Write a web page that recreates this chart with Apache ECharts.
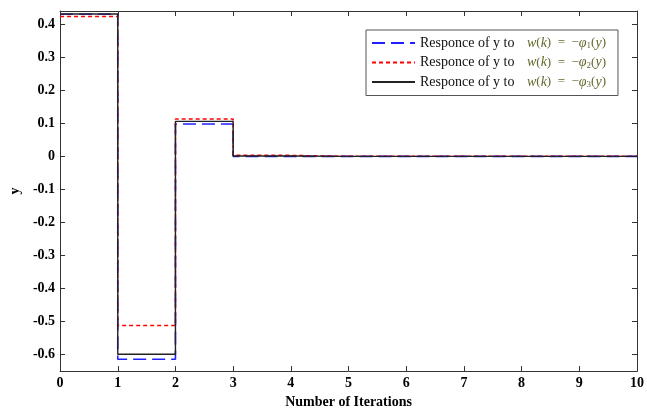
<!DOCTYPE html>
<html>
<head>
<meta charset="utf-8">
<style>
  html, body { margin: 0; padding: 0; background: #fff; }
  #chart { width: 647px; height: 414px; }
</style>
<script src="https://cdn.jsdelivr.net/npm/echarts@6/dist/echarts.min.js"></script>
</head>
<body>
<div id="chart"></div>
<script>
// iterations 0..10, value held until next iteration
var iterations = [0, 1, 2, 3, 4, 5, 6, 7, 8, 9, 10];
var yPhi1 = [0.43, -0.614, 0.098, 0, 0, 0, 0, 0, 0, 0, 0];
var yPhi2 = [0.423, -0.512, 0.113, 0.003, 0, 0, 0, 0, 0, 0, 0];
var yPhi3 = [0.431, -0.599, 0.106, 0.001, 0, 0, 0, 0, 0, 0, 0];
var yTicks = [-0.6, -0.5, -0.4, -0.3, -0.2, -0.1, 0, 0.1, 0.2, 0.3, 0.4];
var legendNames = ['phi1', 'phi2', 'phi3'];
var legendSubs = ['1', '2', '3'];

function pairs(vals) {
  return iterations.map(function (x, i) { return [x, vals[i]]; });
}

var myChart = echarts.init(document.getElementById('chart'));
var font = '"Liberation Serif", "DejaVu Serif", serif';

var option = {
  animation: false,
  backgroundColor: '#fff',
  textStyle: { fontFamily: font },
  grid: { left: 55, right: 6, top: 11, bottom: 34 },
  legend: {
    orient: 'vertical',
    left: 366,
    top: 30,
    data: legendNames,
    itemWidth: 43,
    itemHeight: 12,
    itemGap: 5,
    padding: [6, 12, 6, 5],
    borderColor: '#555',
    borderWidth: 1,
    backgroundColor: '#fff',
    itemStyle: { opacity: 0 },
    formatter: function (name) {
      var i = legendNames.indexOf(name);
      return '{t|Responce of y to }   {m|w}{n|(}{m|k}{n|)  =  \u2212}{m|\u03c6}{s|' + legendSubs[i] + '}{n|(}{m|y}{n|)}';
    },
    textStyle: {
      fontFamily: font,
      rich: {
        t: { fontFamily: font, fontSize: 14, color: '#111' },
        m: { fontFamily: font, fontSize: 14, fontStyle: 'italic', color: '#66662e' },
        n: { fontFamily: font, fontSize: 13, color: '#66662e' },
        s: { fontFamily: font, fontSize: 9, color: '#66662e', verticalAlign: 'bottom', padding: [6, 0, 0, 0] }
      }
    }
  },
  xAxis: [{
    type: 'value',
    min: 0,
    max: 10,
    interval: 1,
    name: 'Number of Iterations',
    nameLocation: 'middle',
    nameGap: 17,
    nameTextStyle: { fontFamily: font, fontWeight: 'bold', fontSize: 14, color: '#000' },
    axisLine: { show: true, onZero: false, lineStyle: { color: '#333', width: 1 } },
    axisTick: { show: true, inside: true, length: 5, lineStyle: { color: '#333' } },
    axisLabel: { margin: 5, fontFamily: font, fontWeight: 'bold', fontSize: 14, color: '#000' },
    splitLine: { show: false }
  }, {
    type: 'value',
    position: 'top',
    min: 0,
    max: 10,
    interval: 1,
    axisLine: { show: true, onZero: false, lineStyle: { color: '#333', width: 1 } },
    axisTick: { show: true, inside: true, length: 5, lineStyle: { color: '#333' } },
    axisLabel: { show: false },
    splitLine: { show: false }
  }],
  yAxis: [{
    type: 'value',
    min: -0.65,
    max: 0.44,
    name: 'y',
    nameLocation: 'middle',
    nameGap: 37,
    nameTextStyle: { fontFamily: font, fontWeight: 'bold', fontSize: 14, color: '#000' },
    axisLine: { show: true, onZero: false, lineStyle: { color: '#333', width: 1 } },
    axisTick: { show: true, inside: true, length: 5, customValues: yTicks, lineStyle: { color: '#333' } },
    axisLabel: {
      margin: 5,
      customValues: yTicks,
      fontFamily: font, fontWeight: 'bold', fontSize: 14, color: '#000',
      formatter: function (v) { return String(Math.round(v * 10) / 10); }
    },
    splitLine: { show: false }
  }, {
    type: 'value',
    position: 'right',
    min: -0.65,
    max: 0.44,
    axisLine: { show: true, onZero: false, lineStyle: { color: '#333', width: 1 } },
    axisTick: { show: true, inside: true, length: 5, customValues: yTicks, lineStyle: { color: '#333' } },
    axisLabel: { show: false },
    splitLine: { show: false }
  }],
  series: [
    {
      name: 'phi1',
      type: 'line',
      step: 'end',
      symbol: 'none',
      data: pairs(yPhi1),
      itemStyle: { color: '#2020ff' },
      lineStyle: { color: '#2020ff', width: 1.6, type: [13, 6] }
    },
    {
      name: 'phi2',
      type: 'line',
      step: 'end',
      symbol: 'none',
      data: pairs(yPhi2),
      itemStyle: { color: '#ff0000' },
      lineStyle: { color: '#ff0000', width: 1.5, type: [4, 3] }
    },
    {
      name: 'phi3',
      type: 'line',
      step: 'end',
      symbol: 'none',
      data: pairs(yPhi3),
      itemStyle: { color: '#222' },
      lineStyle: { color: '#222', width: 1.4, type: 'solid' }
    }
  ]
};

myChart.setOption(option);
window.addEventListener('resize', function () { myChart.resize(); });
</script>
</body>
</html>
